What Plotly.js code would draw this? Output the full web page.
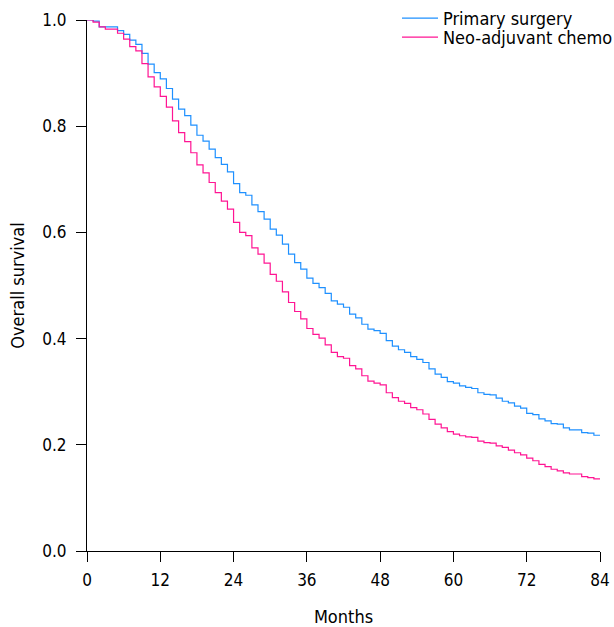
<!DOCTYPE html>
<html>
<head>
<meta charset="utf-8">
<script src="https://cdn.plot.ly/plotly-3.0.1.min.js"></script>
<style>html,body{margin:0;padding:0;background:#fff;}#chart{width:614px;height:627px;}</style>
</head>
<body>
<div id="chart"></div>
<script>
const months = [];
for (let m = 0; m <= 84; m++) months.push(m);

const primarySurgery = [
  1.000, 0.998, 0.987, 0.987, 0.987, 0.980, 0.973, 0.962, 0.954, 0.937,
  0.917, 0.901, 0.889, 0.871, 0.851, 0.832, 0.820, 0.802, 0.783, 0.772,
  0.757, 0.741, 0.728, 0.714, 0.692, 0.675, 0.670, 0.652, 0.639, 0.625,
  0.606, 0.595, 0.578, 0.559, 0.543, 0.531, 0.514, 0.504, 0.496, 0.485,
  0.471, 0.465, 0.459, 0.446, 0.439, 0.427, 0.418, 0.415, 0.410, 0.396,
  0.386, 0.379, 0.374, 0.366, 0.361, 0.355, 0.343, 0.333, 0.327, 0.319,
  0.316, 0.311, 0.308, 0.306, 0.298, 0.295, 0.294, 0.288, 0.282, 0.279,
  0.273, 0.269, 0.259, 0.257, 0.249, 0.245, 0.240, 0.239, 0.232, 0.228,
  0.228, 0.223, 0.222, 0.218, 0.218
];

const neoAdjuvant = [
  1.000, 0.996, 0.987, 0.983, 0.983, 0.975, 0.964, 0.950, 0.942, 0.918,
  0.893, 0.874, 0.856, 0.836, 0.810, 0.788, 0.771, 0.750, 0.727, 0.712,
  0.694, 0.675, 0.659, 0.644, 0.619, 0.600, 0.594, 0.571, 0.559, 0.542,
  0.521, 0.508, 0.488, 0.468, 0.451, 0.437, 0.419, 0.408, 0.401, 0.388,
  0.374, 0.366, 0.363, 0.349, 0.343, 0.330, 0.320, 0.316, 0.313, 0.298,
  0.289, 0.282, 0.278, 0.270, 0.266, 0.258, 0.248, 0.239, 0.232, 0.225,
  0.220, 0.217, 0.215, 0.214, 0.207, 0.204, 0.203, 0.198, 0.195, 0.190,
  0.185, 0.181, 0.175, 0.170, 0.163, 0.159, 0.154, 0.151, 0.147, 0.145,
  0.145, 0.140, 0.138, 0.136, 0.136
];

const seriesNames = ['Primary surgery', 'Neo-adjuvant chemo'];
const xTicks = [0, 12, 24, 36, 48, 60, 72, 84];
const yTicks = [0, 0.2, 0.4, 0.6, 0.8, 1.0];
const yTickLabels = ['0.0', '0.2', '0.4', '0.6', '0.8', '1.0'];

const FONT = '"DejaVu Sans Condensed", "DejaVu Sans", sans-serif';
const FS = 17;
const FS_BIG = 18;

const traces = [
  {x: months, y: primarySurgery, name: seriesNames[0], type: 'scatter', mode: 'lines',
   legend: 'legend', line: {shape: 'hv', color: '#1E90FF', width: 1.2}},
  {x: months, y: neoAdjuvant, name: seriesNames[1], type: 'scatter', mode: 'lines',
   legend: 'legend2', line: {shape: 'hv', color: '#FF1493', width: 1.2}}
];

const legendBase = {xanchor: 'left', yanchor: 'top', bgcolor: 'rgba(0,0,0,0)',
  font: {family: FONT, size: FS_BIG, color: '#000'}, itemwidth: 36};

const layout = {
  width: 614, height: 627,
  margin: {l: 87, r: 14, t: 20, b: 76, autoexpand: false},
  paper_bgcolor: '#fff', plot_bgcolor: '#fff',
  font: {family: FONT, size: FS, color: '#000'},
  showlegend: true,
  legend: Object.assign({}, legendBase, {x: 0.6043, y: 1.0377}),
  legend2: Object.assign({}, legendBase, {x: 0.6043, y: 1.0019}),
  xaxis: {
    range: [0, 84], tickvals: xTicks, ticktext: xTicks.map(String),
    showgrid: false, zeroline: false, showline: true, linecolor: '#000', linewidth: 1,
    ticks: 'outside', ticklen: 10, tickcolor: '#000', tickwidth: 1,
    ticklabelstandoff: 4,
    tickfont: {family: FONT, size: FS, color: '#000'},
    title: {text: 'Months', font: {family: FONT, size: FS_BIG, color: '#000'}, standoff: 34}
  },
  yaxis: {
    range: [0, 1], tickvals: yTicks, ticktext: yTickLabels,
    showgrid: false, zeroline: false, showline: true, linecolor: '#000', linewidth: 1,
    ticks: 'outside', ticklen: 10, tickcolor: '#000', tickwidth: 1,
    ticklabelstandoff: 6,
    tickfont: {family: FONT, size: FS, color: '#000'},
    title: {text: 'Overall survival', font: {family: FONT, size: FS_BIG, color: '#000'}, standoff: 12}
  }
};

Plotly.newPlot('chart', traces, layout, {displayModeBar: false, staticPlot: true});
</script>
</body>
</html>
